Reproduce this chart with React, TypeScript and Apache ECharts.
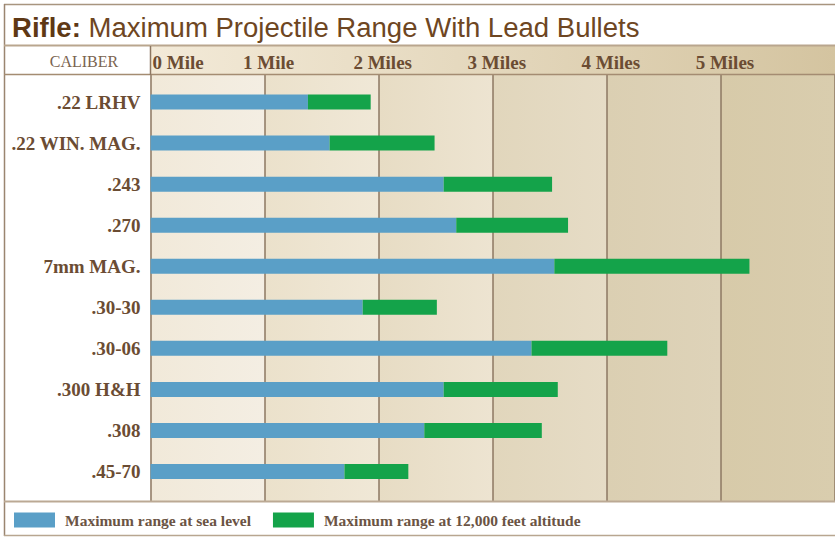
import { useEffect, useRef } from 'react';
import * as echarts from 'echarts';

const calibers = ['.22 LRHV', '.22 WIN. MAG.', '.243', '.270', '7mm MAG.', '.30-30', '.30-06', '.300 H&H', '.308', '.45-70'];
const seaLevel = [1.38, 1.57, 2.57, 2.68, 3.54, 1.86, 3.34, 2.57, 2.4, 1.7];
const altitude12k = [1.93, 2.49, 3.52, 3.66, 5.25, 2.51, 4.53, 3.57, 3.43, 2.26];
const mileTicks = [0, 1, 2, 3, 4, 5];
const mileLabels = ['0 Mile', '1 Mile', '2 Miles', '3 Miles', '4 Miles', '5 Miles'];
const seriesNames = ['Maximum range at sea level', 'Maximum range at 12,000 feet altitude'];
const titleBold = 'Rifle:';
const titleRest = ' Maximum Projectile Range With Lead Bullets';
const headerLabel = 'CALIBER';

const SERIF = '"Liberation Serif", "DejaVu Serif", serif';
const SANS = '"Liberation Sans", Arial, sans-serif';
const BROWN = '#6b4c33';
const LINE = '#8d7762';
const BLUE = '#5a9fc7';
const GREEN = '#14a34a';

const bandColors: [string, string][] = [
  ['#f1e9d9', '#f4eee3'],
  ['#ebe1cb', '#f0e8d7'],
  ['#e7dcc4', '#ede4d1'],
  ['#e1d6bc', '#e6dcc6'],
  ['#dbcfb2', '#ded3b9'],
  ['#d7caa9', '#d9cdae'],
];

const W = 835;
const H = 537;
const PLOT_LEFT = 150.5;
const PX_PER_MILE = 114.5;
const X_MAX = 6;

export default function App() {
  const ref = useRef<HTMLDivElement>(null);
  useEffect(() => {
    if (!ref.current) return;
    const chart = echarts.init(ref.current, undefined, { renderer: 'svg' });
    const extra = altitude12k.map((v, i) => Math.round((v - seaLevel[i]) * 100) / 100);
    const lin = (a: string, b: string) =>
      new echarts.graphic.LinearGradient(0, 0, 1, 0, [
        { offset: 0, color: a },
        { offset: 1, color: b },
      ]);
    const bands = bandColors.map((c, i) => [
      { xAxis: i, yAxis: 0, itemStyle: { color: lin(c[0], c[1]) } },
      { xAxis: i + 1, yAxis: 1 },
    ]);
    const labelStyle = { fontFamily: SERIF, fontSize: 19, fontWeight: 'bold' as const, color: BROWN };
    const hline = (y: number, x1: number, x2: number, color: string, w: number) => ({
      type: 'line',
      z: 100,
      shape: { x1, y1: y, x2, y2: y },
      style: { stroke: color, lineWidth: w },
    });
    const vline = (x: number, y1: number, y2: number, color: string, w: number) => ({
      type: 'line',
      z: 100,
      shape: { x1: x, y1, x2: x, y2 },
      style: { stroke: color, lineWidth: w },
    });

    chart.setOption({
      animation: false,
      backgroundColor: '#ffffff',
      grid: [
        { left: PLOT_LEFT, width: PX_PER_MILE * X_MAX, top: 75, bottom: H - 501, containLabel: false },
        { left: PLOT_LEFT, width: PX_PER_MILE * X_MAX, top: 81.5, bottom: 45, containLabel: false },
      ],
      xAxis: [
        {
          gridIndex: 0,
          type: 'value',
          min: 0,
          max: X_MAX,
          interval: 1,
          position: 'top',
          z: 5,
          axisLine: { show: false },
          axisTick: { show: false },
          splitLine: { show: true, lineStyle: { color: LINE, width: 1.5 } },
          axisLabel: {
            show: true,
            margin: 3,
            showMaxLabel: false,
            alignMinLabel: 'left',
            formatter: (v: number) => {
              const i = mileTicks.indexOf(v);
              if (i < 0) return '';
              return i === 0 ? `{f|${mileLabels[i]}}` : `{m|${mileLabels[i]}}`;
            },
            rich: {
              f: { ...labelStyle, padding: [0, 0, 0, 2] },
              m: { ...labelStyle, padding: [0, 0, 0, 8] },
            },
          },
        },
        {
          gridIndex: 1,
          type: 'value',
          min: 0,
          max: X_MAX,
          interval: 1,
          show: false,
          splitLine: { show: false },
        },
      ],
      yAxis: [
        { gridIndex: 0, type: 'value', min: 0, max: 1, show: false, splitLine: { show: false } },
        {
          gridIndex: 1,
          type: 'category',
          inverse: true,
          data: calibers,
          axisLine: { show: false },
          axisTick: { show: false },
          splitLine: { show: false },
          axisLabel: { ...labelStyle, margin: 10 },
        },
      ],
      legend: {
        data: seriesNames,
        left: 14,
        top: 512,
        padding: 0,
        icon: 'rect',
        itemWidth: 41,
        itemHeight: 15,
        itemGap: 22,
        selectedMode: false,
        textStyle: { fontFamily: SERIF, fontSize: 15.5, fontWeight: 'bold', color: '#6b5444', padding: [0, 0, 0, 5] },
      },
      series: [
        {
          type: 'line',
          xAxisIndex: 0,
          yAxisIndex: 0,
          data: [[0, 0]],
          showSymbol: false,
          symbol: 'none',
          lineStyle: { opacity: 0 },
          silent: true,
          z: 1,
          markArea: { silent: true, data: bands },
        },
        {
          name: seriesNames[0],
          type: 'bar',
          xAxisIndex: 1,
          yAxisIndex: 1,
          stack: 'range',
          data: seaLevel,
          barWidth: 15,
          itemStyle: { color: BLUE },
          z: 10,
        },
        {
          name: seriesNames[1],
          type: 'bar',
          xAxisIndex: 1,
          yAxisIndex: 1,
          stack: 'range',
          data: extra,
          barWidth: 15,
          itemStyle: { color: GREEN },
          z: 10,
        },
      ],
      graphic: [
        {
          type: 'rect',
          z: 0,
          shape: { x: PLOT_LEFT, y: 46, width: W - PLOT_LEFT, height: 28.5 },
          style: { fill: lin('#f3ead8', '#d4c4a0') },
        },
        {
          type: 'text',
          z: 50,
          x: 12,
          y: 27.5,
          scaleX: 1.02,
          style: {
            text: `{b|${titleBold}}{r|${titleRest}}`,
            align: 'left',
            verticalAlign: 'middle',
            rich: {
              b: { fontFamily: SANS, fontSize: 27, fontWeight: 'bold', fill: '#5e3815' },
              r: { fontFamily: SANS, fontSize: 27, fill: '#6e4622' },
            },
          },
        },
        {
          type: 'text',
          z: 50,
          x: 84,
          y: 61.5,
          style: {
            text: headerLabel,
            align: 'center',
            verticalAlign: 'middle',
            fontFamily: SERIF,
            fontSize: 16,
            fill: '#7a6450',
          },
        },
        hline(4.5, 4, W, '#a8957f', 1.5),
        vline(4.5, 4, 536, '#9a8570', 1.5),
        hline(535.5, 4, W, '#b8a690', 1.5),
        hline(45.5, 4, W, '#b9a68e', 2),
        hline(74.5, 4, W, '#a48c72', 1.5),
        hline(501.5, 4, W, '#bba994', 2),
        vline(PLOT_LEFT, 46, 75, LINE, 1.5),
      ],
    });
    return () => chart.dispose();
  }, []);
  return (
    <div
      ref={ref}
      style={{ position: 'fixed', left: 0, top: 0, width: W, height: H, background: '#fff' }}
    />
  );
}
